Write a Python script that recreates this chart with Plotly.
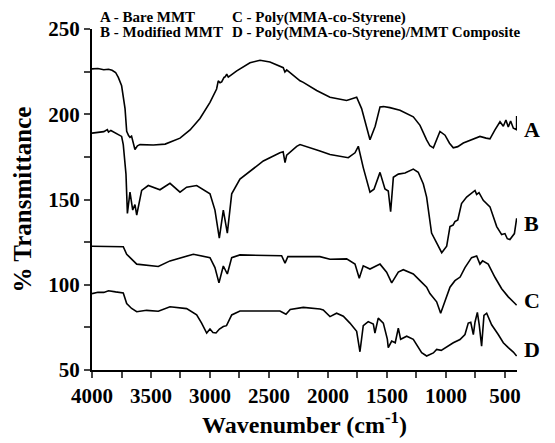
import plotly.graph_objects as go

# Wavenumbers (cm-1) and % transmittance
wn_A = [4000, 3950, 3900, 3860, 3830, 3800, 3777, 3749, 3720, 3706, 3690, 3678, 3665, 3650, 3636, 3615,
        3593, 3480, 3380, 3254, 3169, 3085, 3000, 2944, 2930, 2915, 2901, 2881, 2870, 2858, 2845, 2773,
        2661, 2576, 2492, 2379, 2365, 2350, 2237, 2209, 2096, 1983, 1842, 1757, 1715, 1644, 1600, 1559,
        1530, 1475, 1390, 1277, 1220, 1164, 1136, 1107, 1080, 1051, 1008, 970, 938, 900, 853, 780,
        712, 660, 627, 585, 542, 514, 492, 472, 452, 429, 402, 401, 399]
tr_A = [226.6, 226.8, 226.1, 226.4, 225.8, 224.5, 221.6, 216.7, 203.3, 190, 187.5, 186.5, 187.2, 182, 179.3, 181.5,
        182.2, 182, 182.5, 186, 190.8, 197.5, 207, 214.8, 219.6, 218.5, 219, 221.6, 222, 223.5, 221.8, 225.4,
        230.2, 231.7, 230.6, 227.3, 224.8, 226, 219.6, 218.7, 213.9, 210, 208.1, 210, 203.3, 185, 193, 204.3,
        204.5, 203.9, 202.4, 198.5, 193.5, 185, 181.5, 180.3, 185, 189.9, 187.7, 183, 180.3, 181, 183.1, 185,
        187, 186, 185.6, 190.8, 195.6, 193, 196.6, 192.5, 196, 191.8, 191, 199, 193]

wn_B = [4000, 3950, 3900, 3870, 3860, 3840, 3800, 3770, 3749, 3735, 3712, 3700, 3678, 3655, 3636, 3621,
        3579, 3523, 3424, 3339, 3254, 3198, 3113, 3000, 2972, 2958, 2921, 2887, 2853, 2816, 2746, 2650,
        2548, 2407, 2380, 2364, 2350, 2265, 2237, 2068, 1983, 1828, 1771, 1743, 1701, 1644, 1610, 1559,
        1517, 1489, 1469, 1446, 1404, 1347, 1277, 1235, 1192, 1164, 1136, 1122, 1079, 1036, 994, 966,
        940, 924, 900, 868, 825, 754, 740, 720, 684, 627, 570, 528, 500, 480, 458, 440, 420, 401]
tr_B = [188.9, 189.3, 189.8, 191, 189.5, 190.5, 189, 188, 187, 182.2, 164.9, 141.8, 154.3, 143.8, 147, 140.9,
        155.3, 158.2, 155.7, 159.5, 154.3, 157.2, 158.2, 153.3, 147.6, 143.8, 127.4, 143.8, 130.3, 153.3, 162, 167,
        172.6, 177.4, 178, 171.6, 176, 181.2, 182.2, 178.5, 176.4, 174.5, 177.4, 181.2, 168.7, 154.3, 156, 165.9,
        156.2, 155, 142.8, 163, 164.9, 165.5, 167.8, 166, 159.1, 151.4, 138, 130.3, 124.5, 118.8, 122.6, 134.1,
        135, 137, 138, 147.6, 151.4, 155.3, 153, 154, 149.5, 145.7, 134.1, 129.4, 130, 127, 126.5, 128, 130, 139]

wn_C = [4000, 3900, 3800, 3735, 3706, 3621, 3438, 3339, 3141, 3000, 2958, 2924, 2887, 2853, 2816, 2746,
        2393, 2364, 2340, 2068, 1983, 1842, 1771, 1735, 1701, 1644, 1559, 1503, 1460, 1404, 1362, 1277,
        1220, 1164, 1136, 1079, 1045, 1008, 966, 924, 880, 839, 783, 740, 712, 690, 642, 585,
        528, 472, 440, 415, 401]
tr_C = [122.6, 122.5, 122.4, 122.3, 117.9, 112.1, 110.7, 114, 117.9, 115.9, 110.1, 101.1, 111, 106.3, 115.9, 117.5,
        117, 112.7, 116.5, 116.5, 115, 115.2, 112.1, 103.8, 111.1, 109.2, 112.1, 107.4, 101.1, 107.4, 108.8, 106.3,
        102.4, 98.6, 94.8, 90, 83.3, 90, 98.6, 102.4, 104.5, 110.1, 115.9, 116.9, 112.1, 114, 112.1, 104.4,
        97.7, 92.9, 91, 89, 88]

wn_D = [4000, 3950, 3900, 3860, 3800, 3735, 3706, 3664, 3621, 3537, 3438, 3339, 3198, 3113, 3071, 3028,
        3000, 2975, 2949, 2920, 2887, 2860, 2816, 2746, 2407, 2356, 2320, 2209, 2068, 2040, 1983, 1927,
        1870, 1814, 1757, 1729, 1701, 1659, 1616, 1602, 1574, 1531, 1497, 1489, 1460, 1430, 1404, 1384,
        1333, 1277, 1206, 1164, 1107, 1079, 1040, 938, 881, 839, 811, 790, 768, 754, 734, 718,
        698, 678, 655, 613, 557, 514, 472, 429, 401]
tr_D = [94.8, 95.6, 95.5, 96.5, 95.8, 95.2, 89, 86.1, 84.2, 85, 84.5, 87.1, 86, 82.3, 77.5, 71.7,
        74, 72, 71.7, 74, 75.5, 76, 82.3, 84.6, 84.6, 82.7, 85.5, 86.7, 85.8, 85.2, 81.3, 83.3,
        81.5, 77.5, 72.7, 60.7, 76, 78.4, 77, 71.7, 80.4, 77.5, 68.1, 63.1, 67, 66, 74.6, 68,
        69.8, 68, 60.2, 58.2, 60, 62.1, 61.5, 66, 67.9, 70.8, 77.5, 78, 70.8, 78, 83.8, 76.5,
        64, 82, 83.3, 76.5, 70.8, 66, 63.1, 60.5, 58.2]

series = [("A", wn_A, tr_A, 190.8), ("B", wn_B, tr_B, 136), ("C", wn_C, tr_C, 91), ("D", wn_D, tr_D, 62)]
legend_lines = [("A - Bare MMT", 0.014, 1.035), ("B - Modified MMT", 0.014, 0.991),
                ("C - Poly(MMA-co-Styrene)", 0.325, 1.035), ("D - Poly(MMA-co-Styrene)/MMT Composite", 0.325, 0.991)]

FONT = "Liberation Serif"
fig = go.Figure()
for name, x, y, _ in series:
    fig.add_trace(go.Scatter(x=x, y=y, mode="lines", line=dict(color="black", width=1.6),
                             name=name, showlegend=False))

for name, _, _, ly in series:
    fig.add_annotation(text=name, xref="paper", yref="y", x=1.035, y=ly, showarrow=False,
                       xanchor="center", yanchor="middle",
                       font=dict(family=FONT, size=22, color="black", weight="bold"))
for txt, lx, ly in legend_lines:
    fig.add_annotation(text=txt, xref="paper", yref="paper", x=lx, y=ly, showarrow=False,
                       xanchor="left", yanchor="middle",
                       font=dict(family=FONT, size=15, color="black", weight="bold"))

fig.update_layout(
    width=555, height=443,
    margin=dict(l=92, r=38, t=29, b=67),
    paper_bgcolor="white", plot_bgcolor="white",
    font=dict(family=FONT, color="black", weight="bold"),
    xaxis=dict(range=[4000, 398], tickvals=[4000, 3500, 3000, 2500, 2000, 1500, 1000, 500],
               ticks="outside", ticklen=6, tickwidth=1.5, showline=True, linecolor="black", linewidth=2,
               showgrid=False, zeroline=False,
               minor=dict(dtick=250, tick0=0, ticks="outside", ticklen=6, tickwidth=1.5, showgrid=False),
               tickfont=dict(family=FONT, size=21, color="black", weight="bold"),
               title=dict(text="Wavenumber (cm<sup>-1</sup>)", standoff=6,
                          font=dict(family=FONT, size=24, color="black", weight="bold"))),
    yaxis=dict(range=[50, 250], dtick=50, ticks="outside", ticklen=6, tickwidth=1.5,
               showline=True, linecolor="black", linewidth=2, showgrid=False, zeroline=False,
               minor=dict(dtick=25, ticks="outside", ticklen=6, tickwidth=1.5, showgrid=False),
               tickfont=dict(family=FONT, size=21, color="black", weight="bold"),
               title=dict(text="% Transmittance", standoff=10,
                          font=dict(family=FONT, size=25, color="black", weight="bold"))),
)

fig.write_html("out.html")
